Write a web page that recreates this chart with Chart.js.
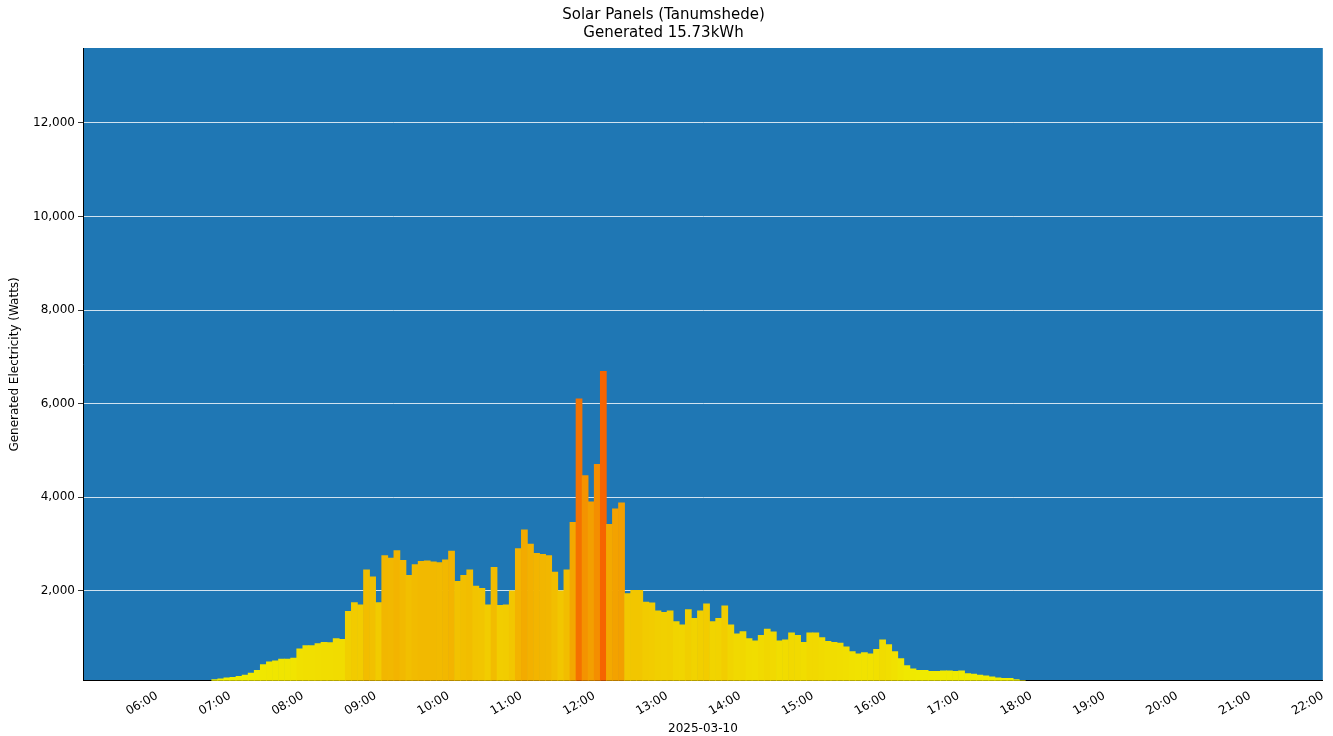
<!DOCTYPE html>
<html><head><meta charset="utf-8">
<script src="https://cdn.jsdelivr.net/npm/chart.js@4/dist/chart.umd.min.js"></script>
<style>html,body{margin:0;background:#fff}#wrap{width:1333px;height:736px}</style>
</head><body><div id="wrap"><canvas id="c"></canvas></div>
<script>
// 5-minute readings, starting 06:45
const startTime = '06:45';
const watts = [
  100,120,140,
  150,170,200,240,300,420,480,500,540,540,560,760,
  830,830,870,900,890,980,960,1560,1750,1700,2450,2300,
  1750,2750,2700,2860,2650,2330,2560,2630,2640,2620,2600,2660,
  2850,2200,2330,2450,2100,2050,1700,2500,1690,1700,2000,2900,
  3300,3000,2800,2780,2750,2400,2000,2450,3460,6100,4460,3900,
  4700,6690,3420,3750,3880,1940,2010,2010,1760,1740,1570,1540,
  1570,1340,1270,1600,1410,1570,1720,1340,1410,1680,1270,1080,
  1130,980,930,1050,1180,1120,930,950,1100,1050,900,1100,
  1100,1000,920,900,880,800,700,650,680,650,750,950,
  850,700,550,400,330,300,300,280,280,290,290,280,
  290,230,220,200,180,160,140,130,130,100,80,60,
  50,40,35,30,30,30,30,30
];
const hourTicks = [6,7,8,9,10,11,12,13,14,15,16,17,18,19,20,21,22];
const yTicks = [2000,4000,6000,8000,10000,12000];

const [sh, sm] = startTime.split(':').map(Number);
const points = watts.map((w, i) => ({ x: sh * 60 + sm + i * 5 + 2.5, y: w }));
const colorFor = v => {
  const t = Math.min(v / 6700, 1);
  const r = Math.round(240 + 6 * t), g = Math.round(240 - 140 * t);
  return `rgb(${r},${g},0)`;
};

const plotBg = {
  id: 'plotBg',
  beforeDraw(chart) {
    const { ctx, chartArea: a } = chart;
    ctx.save(); ctx.fillStyle = '#1f77b4';
    ctx.fillRect(a.left, a.top, a.right - a.left, a.bottom - a.top);
    ctx.restore();
  }
};

new Chart(document.getElementById('c'), {
  type: 'bar',
  data: { datasets: [{
    data: points,
    backgroundColor: watts.map(colorFor),
    barPercentage: 1, categoryPercentage: 1, borderWidth: 0
  }] },
  options: {
    responsive: true, maintainAspectRatio: false, animation: false,
    layout: { padding: { top: 4, right: 10, left: 4, bottom: 0 } },
    plugins: {
      legend: { display: false }, tooltip: { enabled: false },
      title: { display: true, text: ['Solar Panels (Tanumshede)', 'Generated 15.73kWh'],
        color: '#000', font: { size: 15, weight: 'normal', family: 'DejaVu Sans' }, padding: { top: 2, bottom: 6 } }
    },
    scales: {
      x: {
        type: 'linear', min: 299, max: 1320, offset: false,
        afterBuildTicks: s => { s.ticks = hourTicks.map(h => ({ value: h * 60 })); },
        ticks: { minRotation: 30, maxRotation: 30, color: '#000', font: { size: 12, family: 'DejaVu Sans' },
          callback: v => String(Math.floor(v / 60)).padStart(2, '0') + ':00' },
        grid: { display: false, drawTicks: true, tickLength: 5, tickColor: '#000' },
        border: { color: '#000' },
        title: { display: true, text: '2025-03-10', color: '#000', font: { size: 12, family: 'DejaVu Sans' }, padding: 0 }
      },
      y: {
        min: 75, max: 13600,
        afterBuildTicks: s => { s.ticks = yTicks.map(v => ({ value: v })); },
        afterFit: s => { s.width = 79; },
        ticks: { color: '#000', font: { size: 12, family: 'DejaVu Sans' } },
        grid: { color: '#ffffff', lineWidth: 0.8, drawTicks: true, tickLength: 5, tickColor: '#000' },
        border: { color: '#000' },
        title: { display: true, text: 'Generated Electricity (Watts)', color: '#000', font: { size: 12, family: 'DejaVu Sans' } }
      }
    }
  },
  plugins: [plotBg]
});
</script></body></html>
